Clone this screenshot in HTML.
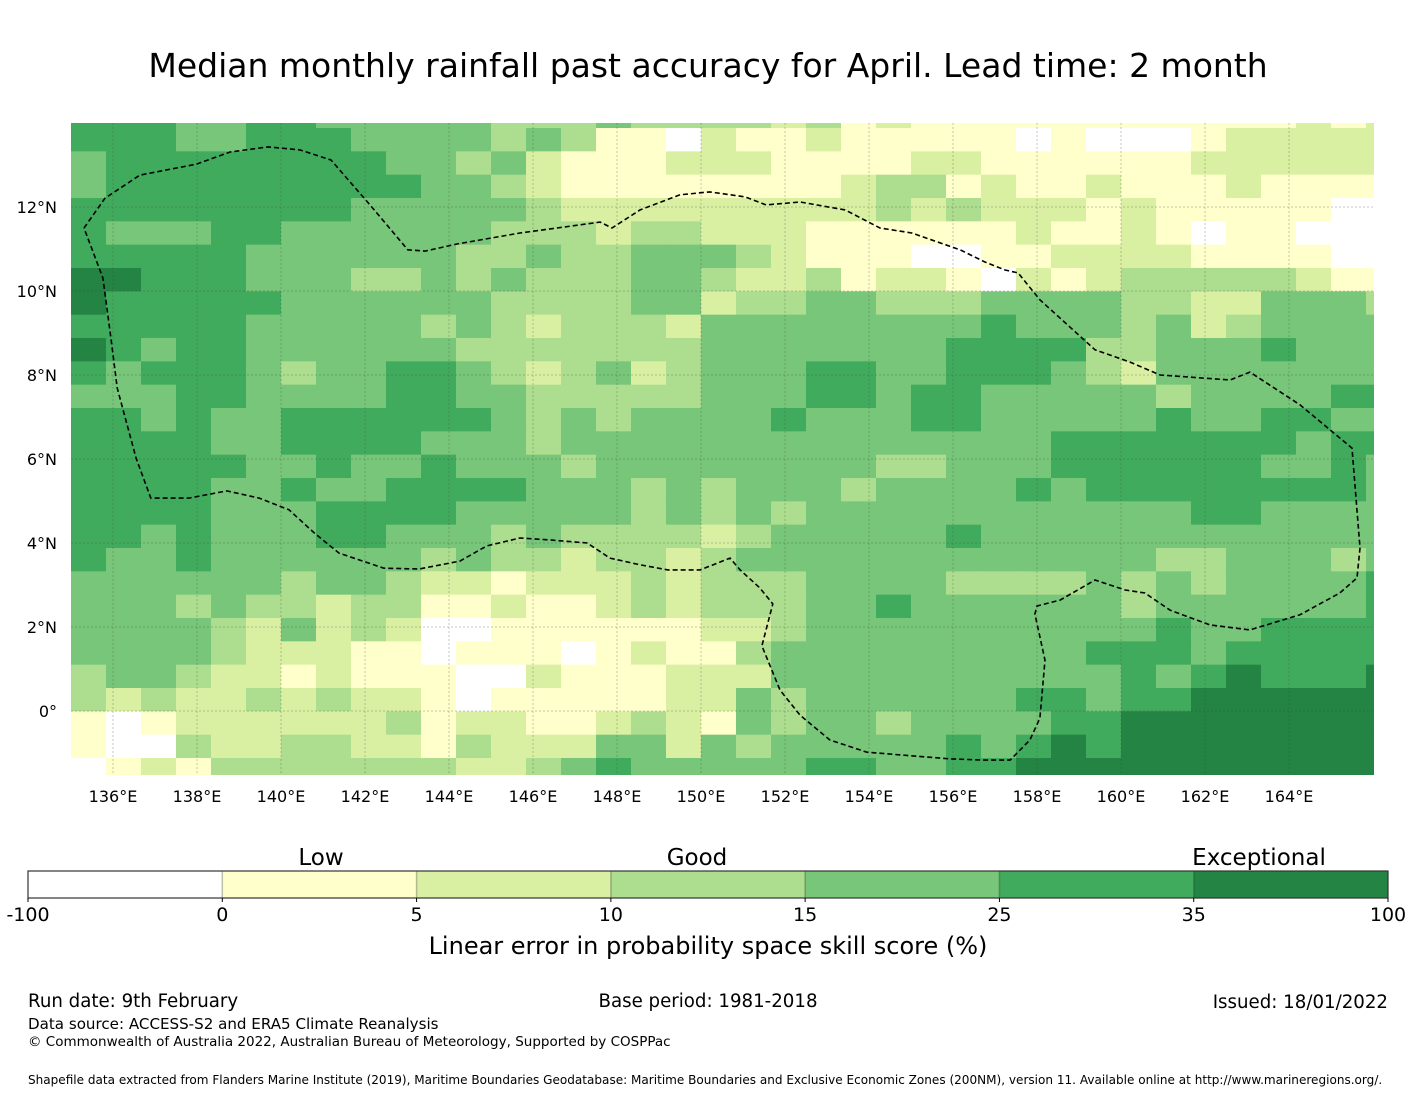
<!DOCTYPE html>
<html><head><meta charset="utf-8">
<style>
html,body{margin:0;padding:0;background:#fff;}
body{width:1416px;height:1095px;overflow:hidden;font-family:"DejaVu Sans","Liberation Sans",sans-serif;}
svg text{font-family:"DejaVu Sans","Liberation Sans",sans-serif;fill:#000;}
</style></head>
<body>
<svg id="chart" width="1416" height="1095" viewBox="0 0 1416 1095" xmlns="http://www.w3.org/2000/svg">
  <text x="708" y="77" font-size="33" text-anchor="middle">Median monthly rainfall past accuracy for April. Lead time: 2 month</text>
  <defs><clipPath id="mapclip"><rect x="71" y="123" width="1303" height="652"/></clipPath></defs>
  <g id="map" clip-path="url(#mapclip)"></g>
  <g id="axes"></g>
  <g id="cbar"></g>
  <text x="708" y="954" font-size="24" text-anchor="middle">Linear error in probability space skill score (%)</text>
  <text x="28" y="1007" font-size="18.2">Run date: 9th February</text>
  <text x="708" y="1007" font-size="18.2" text-anchor="middle">Base period: 1981-2018</text>
  <text x="1388" y="1008" font-size="18.2" text-anchor="end">Issued: 18/01/2022</text>
  <text x="28" y="1029" font-size="15.1">Data source: ACCESS-S2 and ERA5 Climate Reanalysis</text>
  <text x="28" y="1046" font-size="13.5">© Commonwealth of Australia 2022, Australian Bureau of Meteorology, Supported by COSPPac</text>
  <text x="28" y="1084" font-size="12.05">Shapefile data extracted from Flanders Marine Institute (2019), Maritime Boundaries Geodatabase: Maritime Boundaries and Exclusive Economic Zones (200NM), version 11. Available online at http://www.marineregions.org/.</text>
</svg>
<script>
// ---- data ----
const colors = ["#ffffff","#ffffcc","#d9f0a3","#addd8e","#78c679","#41ab5d","#238443"];
const classBounds = ["-100","0","5","10","15","25","35","100"];
const classLabels = ["Low","Good","Exceptional"];
const lonTicks = [136,138,140,142,144,146,148,150,152,154,156,158,160,162,164];
const latTicks = [0,2,4,6,8,10,12];
const gridRows = [
"55544554444433343333231211111111111212",
"55544555444434311021121111101000122222",
"45555555544342111222111122111111222222",
"45555555554432111111112331211211121111",
"55555555444443222222222323222121111100",
"54445544444433323322211111121121011000",
"55555444444334334443211100112222111100",
"66555444334343334432231221021233333211",
"65555544444433334423344333444433224443",
"55555444443432333244444444544434234444",
"65455444444333333344444445555334445444",
"54555434455432342344455445554324444444",
"44455444455443333344455455444443444455",
"55454455555543434444544455444445445544",
"55554455554443444444444444445555555455",
"55555445445444344444444334445555554454",
"55554454455554443434443444454555555554",
"55554445555444443434344444444444554444",
"55454445544434333323444445444444444444",
"54454444443433233234444444444443344434",
"44444434432212223233344443333434344445",
"44434332331121123233344544444434444445",
"44443242320011111122344444444445445555",
"44443222110111012113444444444555455555",
"34432212111002111222444444444454565556",
"32322323221011111224344444455455666666",
"10122222231221123214344344445566666666",
"10032233221322244243444445456566666666",
"01213333333223454444455445566666666666"
];
const boundary = [[135.31,11.5],[135.81,12.21],[136.64,12.76],[137.98,13.02],[138.79,13.31],[139.69,13.43],[140.45,13.36],[141.19,13.12],[142.12,12.05],[143.02,10.98],[143.43,10.95],[144.19,11.12],[145.69,11.38],[147.6,11.64],[147.88,11.5],[148.55,11.93],[149.5,12.29],[150.21,12.36],[151.05,12.24],[151.55,12.05],[152.36,12.12],[153.43,11.93],[154.26,11.5],[155.02,11.38],[156.17,10.98],[156.76,10.69],[157.24,10.5],[157.55,10.43],[158.07,9.79],[159.38,8.6],[160.21,8.31],[160.93,8.0],[162.6,7.88],[163.07,8.07],[164.26,7.29],[165.5,6.26],[165.69,3.88],[165.62,3.17],[165.21,2.81],[164.26,2.29],[163.07,1.93],[162.12,2.05],[161.17,2.4],[160.57,2.81],[160.1,2.88],[159.38,3.12],[158.55,2.64],[158.0,2.5],[157.95,2.31],[158.19,1.21],[158.07,-0.17],[157.83,-0.69],[157.36,-1.17],[156.76,-1.17],[155.93,-1.14],[153.95,-0.98],[153.07,-0.69],[152.36,-0.1],[151.88,0.5],[151.45,1.55],[151.71,2.55],[151.4,2.93],[150.93,3.36],[150.69,3.64],[149.98,3.36],[149.21,3.36],[148.55,3.48],[147.83,3.64],[147.29,4.0],[146.45,4.07],[145.69,4.12],[144.9,3.93],[144.26,3.57],[143.29,3.38],[142.45,3.4],[141.38,3.76],[140.79,4.24],[140.19,4.79],[139.48,5.07],[138.71,5.24],[137.81,5.07],[136.9,5.07],[136.55,6.02],[136.1,7.69],[135.95,8.88],[135.76,10.31],[135.31,11.5]];

// ---- scales ----
const X0 = 71, PXDEG = 42, Y0LAT0 = 711;
function xs(lon){ return X0 + (lon - 135) * PXDEG; }
function ys(lat){ return Y0LAT0 - lat * PXDEG; }
const cellW = 35/42, cellH = 70/3/42;
const firstRowTopLat = (711-128)/42 + cellH;
const NS = "http://www.w3.org/2000/svg";
function mk(tag, attrs, parent){ const e=document.createElementNS(NS,tag); for(const k in attrs) e.setAttribute(k,attrs[k]); parent.appendChild(e); return e; }

const map = document.getElementById('map');
gridRows.forEach((row, r) => {
  for (let c = 0; c < row.length; c++) {
    const v = +row[c];
    const lonL = 135 + c*cellW;
    const latT = firstRowTopLat - r*cellH;
    const x = xs(lonL), y = ys(latT);
    const rect = mk('rect', {x:x.toFixed(2), y:y.toFixed(2), width:(cellW*PXDEG+0.6).toFixed(2), height:(cellH*PXDEG+0.6).toFixed(2), fill:colors[v]}, map);
    
    
  }
});
lonTicks.forEach(l => {
  const ln = mk('line', {x1:xs(l), x2:xs(l), y1:123, y2:775, stroke:'#444', 'stroke-width':0.5, 'stroke-dasharray':'2,2', opacity:0.6}, map);
  
  
});
latTicks.forEach(l => {
  const ln = mk('line', {x1:71, x2:1374, y1:ys(l), y2:ys(l), stroke:'#444', 'stroke-width':0.5, 'stroke-dasharray':'2,2', opacity:0.6}, map);
  
  
});
const pl = mk('polyline', {points: boundary.map(p => xs(p[0]).toFixed(1)+','+ys(p[1]).toFixed(1)).join(' '), fill:'none', stroke:'#000', 'stroke-width':1.6, 'stroke-dasharray':'5,3'}, map);



const axes = document.getElementById('axes');
lonTicks.forEach(l => {
  const t = mk('text', {x:xs(l), y:802, 'font-size':16, 'text-anchor':'middle'}, axes);
  t.textContent = l + '°E';
  
  
});
latTicks.forEach(l => {
  const t = mk('text', {x:57, y:ys(l)+6, 'font-size':16, 'text-anchor':'end'}, axes);
  t.textContent = l === 0 ? '0°' : l + '°N';
  
  
});

const cb = document.getElementById('cbar');
const cbX = 28, cbW = 1360, cbY = 871, cbH = 27, segW = cbW / colors.length;
colors.forEach((col, i) => {
  const r = mk('rect', {x:cbX+i*segW, y:cbY, width:segW, height:cbH, fill:col}, cb);
  
  
  if (i > 0) {
    const d = mk('line', {x1:cbX+i*segW, x2:cbX+i*segW, y1:cbY, y2:cbY+cbH, stroke:'rgba(0,0,0,0.25)', 'stroke-width':1.5}, cb);
    
    
  }
});
const frame = mk('rect', {x:cbX, y:cbY, width:cbW, height:cbH, fill:'none', stroke:'#333', 'stroke-width':1.2}, cb);


classBounds.forEach((b, i) => {
  const x = cbX + i*segW;
  const tk = mk('line', {x1:x, x2:x, y1:cbY+cbH, y2:cbY+cbH+4, stroke:'#000', 'stroke-width':1}, cb);
  
  
  const t = mk('text', {x:x, y:921, 'font-size':19, 'text-anchor':'middle'}, cb);
  t.textContent = b;
  
  
});
const classPos = [321, 697, 1259];
classLabels.forEach((lab, i) => {
  const t = mk('text', {x:classPos[i], y:865, 'font-size':23, 'text-anchor':'middle'}, cb);
  t.textContent = lab;
  
  
});
</script>
</body></html>
